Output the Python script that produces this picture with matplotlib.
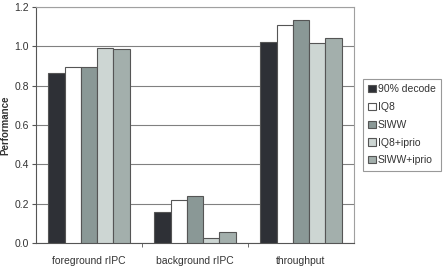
import numpy as np
import matplotlib.pyplot as plt

categories = ['foreground rIPC', 'background rIPC', 'throughput']
series = ['90% decode', 'IQ8', 'SIWW', 'IQ8+iprio', 'SIWW+iprio']
values = {
    '90% decode': [0.862, 0.158, 1.023],
    'IQ8':        [0.896, 0.217, 1.110],
    'SIWW':       [0.896, 0.238, 1.134],
    'IQ8+iprio':  [0.990, 0.027, 1.018],
    'SIWW+iprio': [0.985, 0.058, 1.043],
}
colors = ['#2e3036', '#ffffff', '#8a9896', '#cdd6d3', '#a3afac']

plt.rcParams['font.family'] = ['Liberation Sans', 'DejaVu Sans']

fig = plt.figure(figsize=(4.46, 2.73), dpi=100)
ax = fig.add_axes([36 / 446, 1 - 243 / 273, 318 / 446, 236 / 273])

x = np.arange(len(categories))
w = 0.153
for i, s in enumerate(series):
    ax.bar(x + (i - 2) * w, values[s], w, color=colors[i], edgecolor='#555555',
           linewidth=0.8, label=s, zorder=3)

ax.set_xlim(-0.5, 2.5)
ax.set_ylim(0, 1.2)
ax.set_yticks(np.arange(0, 1.21, 0.2))
ax.set_yticklabels(['%.1f' % v for v in np.arange(0, 1.21, 0.2)], fontsize=7.5, color='#333333')
ax.yaxis.grid(True, color='#808080', linewidth=0.8, zorder=0)
ax.set_xticks(x)
ax.set_xticklabels(categories, fontsize=7.5, color='#333333')
ax.tick_params(axis='x', length=0, pad=9)
ax.set_xticks([0.5, 1.5], minor=True)
ax.tick_params(axis='x', which='minor', length=3, color='#555555', direction='out')
ax.tick_params(axis='y', length=3, color='#555555', direction='out', pad=2)
ax.set_ylabel('Performance', fontsize=7, fontweight='bold', color='#333333', labelpad=3)

for side in ['top', 'right']:
    ax.spines[side].set_color('#a0a0a0')
for side in ['left', 'bottom']:
    ax.spines[side].set_color('#555555')

leg = ax.legend(loc='upper left', bbox_to_anchor=(363 / 318 - 36 / 318, 1 - 72 / 236),
                fontsize=7.5, frameon=True, fancybox=False, handlelength=0.7,
                handleheight=0.7, handletextpad=0.2, borderpad=0.5, labelspacing=0.75,
                borderaxespad=0)
leg.get_frame().set_edgecolor('#808080')
leg.get_frame().set_linewidth(0.8)
for t in leg.get_texts():
    t.set_color('#333333')

fig.savefig('out.png', dpi=100)
